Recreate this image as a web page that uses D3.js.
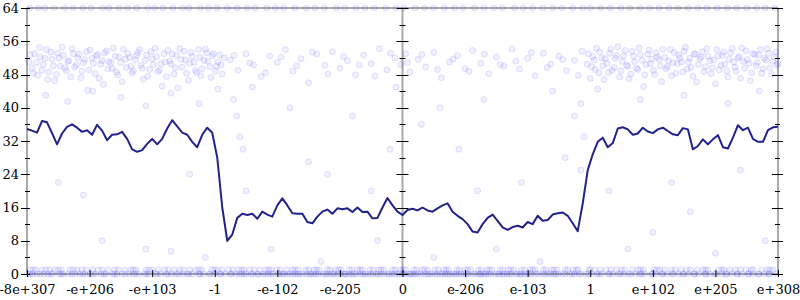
<!DOCTYPE html>
<html>
<head>
<meta charset="utf-8">
<script src="https://cdn.jsdelivr.net/npm/d3@7"></script>
<style>
  body { margin: 0; background: #fff; }
  text { font-family: "DejaVu Serif", serif; font-size: 13px; fill: #000; }
</style>
</head>
<body>
<svg id="chart" width="800" height="300"></svg>
<script>
// tick labels along the x axis (positions 0..12)
const xTickLabels = ["-8e+307", "-e+206", "-e+103", "-1", "-e-102", "-e-205", "0",
    "e-206", "e-103", "1", "e+102", "e+205", "e+308"];
const yMajor = [0, 8, 16, 24, 32, 40, 48, 56, 64];
const yMinor = [4, 12, 20, 28, 36, 44, 52, 60];

// moving average, one value every 0.08 of an x unit
const avgLine = [34.9,34.5,34.0,36.8,36.5,33.9,31.2,33.8,35.4,36.0,
    35.2,34.2,34.6,33.5,35.9,34.5,32.2,33.5,33.6,34.2,
    32.5,30.0,29.4,29.8,31.3,32.5,31.2,32.5,35.0,37.0,
    35.5,34.0,33.5,31.8,30.5,33.5,35.2,34.0,28.0,16.0,
    8.0,9.5,13.5,14.5,14.2,14.5,13.3,15.0,14.3,13.8,
    16.5,18.2,16.5,14.6,14.5,14.5,12.5,12.2,13.8,15.0,
    15.5,14.5,15.8,15.6,15.8,14.9,16.0,14.9,15.0,13.4,
    13.5,16.0,18.3,16.5,15.0,14.2,15.4,15.7,15.3,16.0,
    15.3,15.0,15.8,16.5,17.0,15.0,14.0,13.2,12.0,10.2,
    10.0,12.0,13.5,14.3,12.8,11.2,10.6,11.3,11.6,11.2,
    12.5,12.0,14.0,12.8,13.0,14.3,14.6,14.8,14.0,12.2,
    10.3,17.0,25.0,28.8,31.8,32.8,30.5,31.5,35.0,35.3,
    34.8,33.5,33.8,35.2,34.3,33.9,34.8,35.2,34.4,33.6,
    33.4,35.1,34.8,30.0,30.8,32.4,31.2,32.4,33.4,30.5,
    30.2,32.8,35.8,34.6,35.2,32.5,31.8,31.8,34.6,35.3,35.4];
const avgStep = 0.08;

// samples sitting at 0
const zeroX = [0.01,0.09,0.16,0.27,0.33,0.41,0.52,0.58,0.66,0.77,0.84,0.93,1.01,1.1,1.19,1.26,1.37,1.44,1.52,1.63,
    1.7,1.79,1.88,1.95,2.06,2.13,2.22,2.31,2.38,2.49,2.56,2.64,2.75,2.82,2.91,3.0,3.08,3.17,3.25,3.34,
    3.43,3.5,3.61,3.68,3.77,3.86,3.93,4.04,4.11,4.2,4.29,4.36,4.47,4.54,4.62,4.73,4.8,4.89,4.97,5.06,
    5.15,5.22,5.33,5.4,5.49,5.58,5.65,5.76,5.83,5.92,6.0,6.09,6.18,6.25,6.36,6.43,6.52,6.61,6.68,6.79,
    6.86,6.94,7.05,7.12,7.21,7.3,7.37,7.48,7.55,7.63,7.74,7.81,7.9,7.99,8.06,8.17,8.24,8.33,8.42,8.49,
    8.6,8.67,8.75,8.86,8.93,9.02,9.11,9.18,9.29,9.36,9.45,9.54,9.61,9.72,9.79,9.87,9.98,10.05,10.14,10.23,
    10.3,10.41,10.48,10.57,10.66,10.73,10.84,10.91,10.99,11.1,11.17,11.26,11.35,11.42,11.53,11.6,11.69,11.78,11.85,11.96,
    4.25,4.58,4.91,5.1,5.37,5.7,5.95,6.14,6.4,6.72,6.99,7.26,7.6,7.88,
    0.05,0.21,0.38,0.55,0.72,0.89,1.06,1.23,1.4,1.57,1.74,1.91,2.08,2.25,2.42,2.59,2.76,2.93,3.1,3.27,
    3.39,3.47,3.58,3.7,3.81,3.9,4.01,4.08,4.16,4.33,4.41,4.52,4.66,4.77,4.85,5.01,5.08,5.19,5.26,5.44,
    5.53,5.61,5.79,5.87,6.03,6.12,6.21,6.3,6.47,6.56,6.64,6.75,6.83,6.9,7.02,7.16,7.24,7.33,7.41,7.52,
    7.67,7.71,7.84,7.95,8.03,8.13,8.28,8.37,8.45,8.56,8.71,8.82,8.97,9.14,9.31,9.48,9.65,9.82,9.99,10.16,
    10.33,10.5,10.67,10.84,11.01,11.18,11.35,11.52,11.69,11.86];
// samples sitting at 1
const oneX = [0.05,0.14,0.24,0.36,0.45,0.55,0.69,0.8,0.88,1.05,1.14,1.3,1.4,1.56,1.66,1.74,1.9,2.0,2.1,2.26,
    2.35,2.44,2.6,2.69,2.79,2.95,3.04,3.12,3.29,3.38,3.47,3.56,3.72,3.81,3.9,3.99,4.15,4.24,4.33,4.5,
    4.59,4.67,4.84,4.93,5.02,5.19,5.28,5.36,5.53,5.62,5.71,5.88,5.97,6.05,6.22,6.31,6.4,6.57,6.66,6.74,
    6.91,7.0,7.09,7.26,7.35,7.43,7.6,7.69,7.78,7.95,8.04,8.12,8.29,8.38,8.47,8.64,8.73,8.81,8.98,9.07,
    9.16,9.33,9.42,9.5,9.67,9.76,9.85,10.02,10.11,10.19,10.36,10.45,10.54,10.71,10.8,10.88,11.05,11.14,11.23,11.4,
    11.49,11.57,11.74,11.83,11.92,
    0.1,0.3,0.5,0.74,0.95,1.2,1.46,1.7,1.95,2.2,2.5,2.74,3.0,3.22,3.43,3.63,3.86,4.05,4.28,4.45,
    4.63,4.8,4.98,5.15,5.32,5.48,5.66,5.84,6.01,6.18,6.35,6.52,6.7,6.87,7.04,7.21,7.39,7.56,7.73,7.9,
    8.08,8.25,8.42,8.6,8.78,9.0,9.25,9.55,9.8,10.07,10.3,10.6,10.84,11.1,11.32,11.6,11.87];
// samples sitting at 64
const topX = [0.04,0.18,0.29,0.43,0.6,0.74,0.89,1.02,1.2,1.31,1.47,1.61,1.75,1.93,2.04,2.17,2.33,2.48,2.59,2.77,
    2.9,3.03,3.2,3.36,3.52,3.64,3.83,3.97,4.1,4.28,4.46,4.6,4.75,4.94,5.08,5.26,5.4,5.55,5.73,5.9,
    6.02,6.2,6.35,6.5,6.67,6.83,6.97,7.15,7.3,7.46,7.6,7.79,7.93,8.08,8.24,8.4,8.55,8.72,8.88,9.0,
    9.17,9.32,9.49,9.63,9.8,9.95,10.1,10.26,10.4,10.57,10.72,10.86,11.03,11.19,11.34,11.5,11.66,11.8,11.95];

// the 48..56 band
const bandPts = [[0.03,51],[0.08,49.5],[0.12,53],[0.17,47.8],[0.21,52.2],[0.26,50.4],[0.31,54],[0.35,48.6],[0.4,51.7],[0.44,46.5],
    [0.49,53.1],[0.53,50],[0.58,52.6],[0.63,48.9],[0.67,51.3],[0.72,54.2],[0.76,49.8],[0.81,52],[0.86,47.2],[0.9,50.8],
    [0.95,53.5],[0.99,49.1],[1.04,51.9],[1.09,48.2],[1.13,52.8],[1.18,50.5],[1.22,45.6],[1.27,53.7],[1.31,51.1],[1.36,49.4],
    [1.41,52.4],[1.45,47.9],[1.5,50.9],[1.54,54.1],[1.59,49.7],[1.64,52.1],[1.68,48.4],[1.73,51.5],[1.77,53.3],[1.82,50.2],
    [1.86,46.9],[1.91,52.7],[1.96,49.2],[2.0,51.8],[2.05,54.3],[2.09,48.7],[2.14,50.6],[2.19,53],[2.23,47.5],[2.28,51.2],
    [2.32,52.9],[2.37,49.6],[2.41,44.8],[2.46,51.6],[2.51,53.6],[2.55,48.3],[2.6,50.7],[2.64,52.3],[2.69,49],[2.74,54],
    [2.78,47.7],[2.83,51.4],[2.87,53.2],[2.92,49.9],[2.96,52.5],[3.01,48.8],[3.05,51],[3.1,50.3],[3.15,52],
    [0.05,52.8],[0.1,48.3],[0.15,50.9],[0.2,54.5],[0.24,49],[0.29,51.9],[0.33,46.8],[0.38,53.4],[0.42,50.1],[0.47,48],
    [0.51,52],[0.56,54.6],[0.61,49.6],[0.65,51.1],[0.7,47.4],[0.74,53],[0.79,50.3],[0.83,52.9],[0.88,48.8],[0.92,51.6],
    [0.97,44.2],[1.01,53.9],[1.06,50.7],[1.11,52.5],[1.15,47.1],[1.2,51.3],[1.24,53.2],[1.29,49.3],[1.34,50.8],[1.38,54.4],
    [1.43,48.6],[1.47,52.2],[1.52,46.3],[1.57,51.7],[1.61,53.1],[1.66,50],[1.7,48.9],[1.75,52.6],[1.8,54],[1.84,49.5],
    [1.89,51.4],[1.93,47.6],[1.98,53.5],[2.02,50.4],[2.07,52.3],[2.12,49.1],[2.16,45.2],[2.21,51],[2.25,53.8],[2.3,50.5],
    [2.35,48.1],[2.39,52.6],[2.44,54.2],[2.48,49.8],[2.53,51.5],[2.58,46.6],[2.62,53.3],[2.67,50.9],[2.71,48.5],[2.76,52.1],
    [2.8,49.4],[2.85,54.1],[2.89,51.2],[2.94,47.3],[2.98,53],[3.03,50],[3.08,52.7],[3.12,48.1],
    [3.25,51.5],[3.37,49],[3.5,53],[3.62,50.3],[3.74,47.5],[3.88,52.4],[4.0,50.9],[4.13,54],[4.25,48.8],[4.38,51.8],
    [4.5,46],[4.63,52.9],[4.76,50.2],[4.88,53.5],[5.0,49.5],[5.12,51.3],[5.25,47.9],[5.38,52.7],[5.5,50.6],[5.63,54.2],
    [5.75,49.1],[5.88,52],[5.97,50.4],[6.05,53],[6.12,48.6],[6.25,51.6],[6.37,49.8],[6.5,53.3],[6.62,47.2],[6.75,51],
    [6.88,52.6],[7.0,49.4],[7.12,53.8],[7.25,50.7],[7.38,48.2],[7.5,52.2],[7.62,50],[7.75,54.1],[7.87,49.3],[8.0,51.9],
    [8.12,47.7],[8.25,53.1],[8.37,50.5],[8.5,52.4],[8.62,48.9],[8.75,51.4],[8.87,53.6],
    [3.31,52.6],[3.56,50.8],[3.81,48.4],[4.06,52.2],[4.31,50.1],[4.56,53.4],[4.81,48.1],[5.06,52.3],[5.31,50.3],[5.56,47.6],
    [5.81,53.1],[6.08,50.9],[6.31,52.8],[6.56,49.2],[6.81,51.7],[7.06,48.8],[7.31,52.9],[7.56,50.4],[7.81,51.2],[8.06,53.3],
    [8.31,49.7],[8.56,51.6],[8.81,47.8],
    [8.95,50.5],[9.0,47],[9.04,52.3],[9.08,49.2],[9.12,44.5],[9.15,53.4],[9.2,50.1],[9.24,51.8],[9.29,48.5],[9.33,54.1],
    [9.38,49.7],[9.42,52.6],[9.47,47.4],[9.51,51.2],[9.56,53.8],[9.6,50],[9.65,48.1],[9.69,52.4],[9.74,49.5],[9.78,54.4],
    [9.83,51.4],[9.87,47.9],[9.92,52.9],[9.96,50.6],[10.01,49],[10.05,53.2],[10.1,51.6],[10.14,46.3],[10.19,52.1],[10.23,49.9],
    [10.28,54],[10.32,50.8],[10.37,48.3],[10.41,52.7],[10.46,51],[10.5,53.6],[10.55,49.3],[10.59,51.9],[10.64,47.6],[10.68,53],
    [10.73,50.4],[10.77,52.2],[10.82,48.7],[10.86,54.2],[10.91,51.3],[10.95,49.6],[11.0,45.8],[11.04,52.5],[11.09,50.2],[11.13,53.4],
    [11.18,48.9],[11.22,51.7],[11.27,54.3],[11.31,49.8],[11.36,52],[11.4,47.1],[11.45,51.1],[11.49,53.7],[11.54,50.7],[11.58,48.4],
    [11.63,52.8],[11.67,50.9],[11.72,54],[11.76,49.4],[11.81,51.5],[11.85,53.1],[11.9,48],[11.94,52.2],[11.98,50.3],
    [8.97,53],[9.02,49.9],[9.06,51.5],[9.1,54.3],[9.14,48.4],[9.18,52],[9.22,46.8],[9.27,50.7],[9.31,53.1],[9.35,49],
    [9.4,51.9],[9.44,54.7],[9.49,48.9],[9.53,52.5],[9.58,50.2],[9.62,47],[9.67,53.6],[9.71,51.1],[9.76,49.2],[9.8,52.8],
    [9.85,45.1],[9.89,50.4],[9.94,53.9],[9.98,51.7],[10.03,48],[10.07,52.2],[10.12,50.1],[10.16,54.1],[10.21,49.4],[10.25,51.3],
    [10.3,47.7],[10.34,53.3],[10.39,50.6],[10.43,52],[10.48,48.6],[10.52,54.5],[10.57,51],[10.61,49.7],[10.66,52.9],[10.7,46.2],
    [10.75,51.8],[10.79,53.5],[10.84,49.9],[10.88,52.4],[10.93,48.2],[10.97,51.5],[11.02,54],[11.06,49.1],[11.11,52.6],[11.15,50.5],
    [11.2,47.4],[11.24,53.2],[11.29,51],[11.33,48.8],[11.38,52.3],[11.42,54.4],[11.47,49.5],[11.51,51.6],[11.56,46.5],[11.6,53],
    [11.65,50.1],[11.69,52.7],[11.74,48.3],[11.78,51.9],[11.83,54.2],[11.87,49.6],[11.92,51.2],[11.96,53.4],[12.0,50.6]];

// stray samples between the bands
const strayPts = [[0.3,43],[0.65,41.5],[1.05,44],[1.5,42.5],[1.9,40.5],[2.3,43.5],[2.75,41],[3.05,44.5],
    [0.5,22],[1.2,8],[1.9,6],[2.3,5.5],[0.9,19],[2.6,24],[2.85,4],
    [3.3,42],[3.35,38],[3.4,33],[3.45,30],[3.5,20],[3.6,45],[4.2,40],[4.5,27],[4.8,24],[5.2,38],[5.5,20],
    [3.9,6],[4.7,3],[5.6,8],[5.9,45],[5.8,30],
    [6.3,36],[6.6,40],[6.9,30],[7.2,20],[7.3,42],[7.9,22],[8.4,44],[8.6,28],[8.75,38],[8.85,41],[8.9,33],[8.85,25],
    [6.5,4],[7.5,6],[8.2,3],
    [9.3,20],[9.6,6],[10.0,10],[10.3,22],[10.6,15],[11.0,5],[11.4,25],[11.8,8],[9.8,42],[10.5,43],[11.2,41],[11.7,44]];

const svg = d3.select("#chart");
const x = d3.scaleLinear().domain([0, 12]).range([27, 778]);
const y = d3.scaleLinear().domain([0, 64]).range([274, 8]);

// frame lines
const frame = svg.append("g").attr("stroke", "#aaa").attr("stroke-width", 2);
[0, 6, 12].forEach(v => frame.append("line")
    .attr("x1", x(v)).attr("x2", x(v)).attr("y1", y(0)).attr("y2", y(64)));
[0, 64].forEach(v => frame.append("line")
    .attr("x1", x(0)).attr("x2", x(12)).attr("y1", y(v)).attr("y2", y(v)));

// scatter
const samples = []
    .concat(zeroX.map(d => [d, 0]))
    .concat(oneX.map(d => [d, 1]))
    .concat(topX.map(d => [d, 64]))
    .concat(bandPts)
    .concat(strayPts);

svg.append("g")
    .selectAll("circle")
    .data(samples)
    .join("circle")
    .attr("cx", d => x(d[0]))
    .attr("cy", d => y(d[1]))
    .attr("r", 3)
    .attr("fill", "#00f")
    .attr("fill-opacity", 0.06)
    .attr("stroke", "#00f")
    .attr("stroke-opacity", 0.1)
    .attr("stroke-width", 1);

// moving average line
const line = d3.line()
    .x((d, i) => x(i * avgStep))
    .y(d => y(d));
svg.append("path")
    .datum(avgLine)
    .attr("fill", "none")
    .attr("stroke", "#22228c")
    .attr("stroke-width", 2)
    .attr("stroke-linejoin", "round")
    .attr("d", line);

// y ticks on the three vertical rules
function vTicks(pos, values, left, right) {
    svg.append("g").attr("stroke", "#000").attr("stroke-width", 1)
        .selectAll("line")
        .data(values)
        .join("line")
        .attr("x1", x(pos) - left).attr("x2", x(pos) + right)
        .attr("y1", d => Math.round(y(d)) + 0.5).attr("y2", d => Math.round(y(d)) + 0.5);
}
vTicks(0, yMajor, 6, 3);
vTicks(0, yMinor, 2, 3);
vTicks(6, yMajor, 6, 6);
vTicks(6, yMinor, 3, 3);
vTicks(12, yMajor, 6, 5);
vTicks(12, yMinor, 3, 2);

const yAxis = svg.append("g")
    .attr("transform", `translate(${x(0)},0)`)
    .call(d3.axisLeft(y).tickValues(yMajor).tickSize(6).tickPadding(2))
    .attr("font-family", "DejaVu Serif").attr("font-size", 13);
yAxis.select(".domain").remove();
yAxis.selectAll("line").remove();

const xAxis = svg.append("g")
    .attr("transform", `translate(0,${y(0)})`)
    .call(d3.axisBottom(x).tickValues(d3.range(13)).tickFormat(i => xTickLabels[i])
        .tickSize(3).tickPadding(8))
    .attr("font-family", "DejaVu Serif").attr("font-size", 13);
xAxis.select(".domain").remove();
xAxis.selectAll("line").attr("y1", -4).attr("stroke", "#000");
</script>
</body>
</html>
